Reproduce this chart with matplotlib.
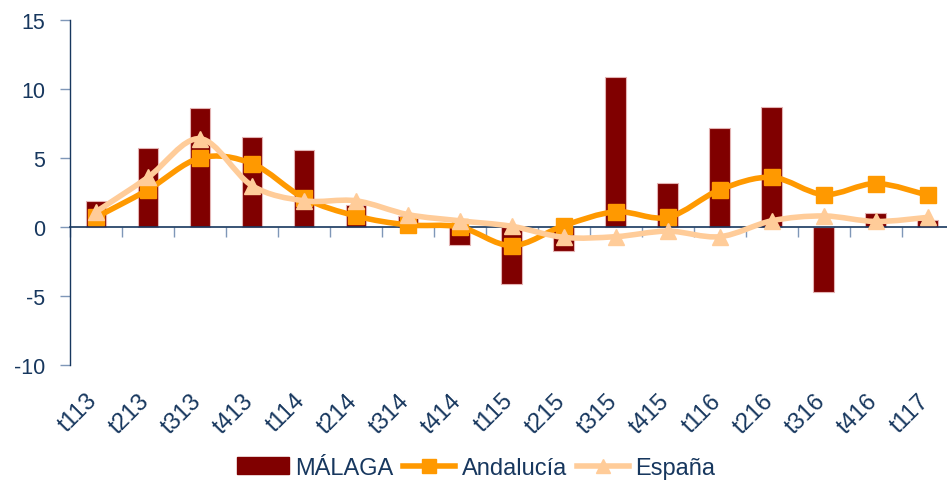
import numpy as np
import matplotlib
matplotlib.use("Agg")
import matplotlib.pyplot as plt
from matplotlib.path import Path
from matplotlib.patches import PathPatch, Patch
from matplotlib.lines import Line2D

# Quarterly rates of change (%)
periods = ["t113", "t213", "t313", "t413", "t114", "t214", "t314", "t414",
           "t115", "t215", "t315", "t415", "t116", "t216", "t316", "t416", "t117"]
malaga = [1.9, 5.75, 8.6, 6.55, 5.6, 1.6, 0.8, -1.3,
          -4.1, -1.75, 10.9, 3.2, 7.2, 8.7, -4.7, 1.0, 0.5]
andalucia = [0.7, 2.7, 5.0, 4.6, 2.1, 0.8, 0.15, 0.0,
             -1.35, 0.1, 1.1, 0.7, 2.7, 3.6, 2.35, 3.15, 2.3]
espana = [1.1, 3.6, 6.4, 3.0, 1.9, 1.9, 0.9, 0.45,
          0.05, -0.75, -0.7, -0.3, -0.7, 0.45, 0.8, 0.4, 0.7]

yticks = [-10, -5, 0, 5, 10, 15]

TEXT = "#17375E"
TICK = "#7F97B8"
BAR = "#800000"
AND_C = "#FF9900"
ESP_C = "#FFCC99"

plt.rcParams["font.family"] = ["Liberation Sans", "DejaVu Sans"]

fig = plt.figure(figsize=(9.47, 4.81), dpi=100)
ax = fig.add_axes([70 / 947, 1 - 366 / 481, 877 / 947, 345 / 481])

x = np.arange(len(periods))


def smooth_path(xs, ys):
    """Cubic Bezier path through the points (Catmull-Rom style smoothing)."""
    pts = np.column_stack([xs, ys]).astype(float)
    n = len(pts)
    verts = [pts[0]]
    codes = [Path.MOVETO]
    for i in range(n - 1):
        p0 = pts[i - 1] if i > 0 else pts[i]
        p1 = pts[i]
        p2 = pts[i + 1]
        p3 = pts[i + 2] if i + 2 < n else pts[i + 1]
        c1 = p1 + (p2 - p0) / 6.0
        c2 = p2 - (p3 - p1) / 6.0
        verts += [c1, c2, p2]
        codes += [Path.CURVE4] * 3
    return Path(verts, codes)


ax.bar(x, malaga, width=0.4, color=BAR, edgecolor="#E3B3B3", linewidth=0.8, zorder=2)

for vals, col, mk, ms, z in [(andalucia, AND_C, "s", 11.5, 3), (espana, ESP_C, "^", 12, 4)]:
    patch = PathPatch(smooth_path(x, vals), facecolor="none", edgecolor=col,
                      linewidth=4.0, capstyle="round", joinstyle="round", zorder=z)
    ax.add_patch(patch)
    ax.plot(x, vals, linestyle="none", marker=mk, markersize=ms, color=col,
            markeredgecolor=col, zorder=z + 0.5)

ax.set_xlim(-0.5, 16.37)
ax.set_ylim(-10, 15)

# Axes styling
for s in ["top", "right"]:
    ax.spines[s].set_visible(False)
ax.spines["left"].set_color(TEXT)
ax.spines["left"].set_linewidth(1.0)
ax.spines["bottom"].set_position(("data", 0))
ax.spines["bottom"].set_color(TEXT)
ax.spines["bottom"].set_linewidth(1.2)

ax.set_yticks(yticks)
ax.set_yticklabels([str(v) for v in yticks])
ax.tick_params(axis="y", direction="out", length=7, width=1, color=TICK,
               labelsize=15.5, labelcolor=TEXT, pad=11)

ax.set_xticks(np.arange(-0.5, 16.5, 1.0))
ax.tick_params(axis="x", direction="out", length=7, width=1, color=TICK,
               labelbottom=False)

for xi, lab in zip(x, periods):
    ax.text(xi - 0.19, -11.75, lab, rotation=45, ha="right", va="top",
            rotation_mode="anchor", fontsize=17, color=TEXT,
            transform=ax.transData, clip_on=False)

handles = [
    Patch(facecolor=BAR, edgecolor=BAR),
    Line2D([0], [0], color=AND_C, linewidth=4.0, marker="s", markersize=10),
    Line2D([0], [0], color=ESP_C, linewidth=4.0, marker="^", markersize=10),
]
fig.legend(handles, ["MÁLAGA", "Andalucía", "España"], loc="center",
           bbox_to_anchor=(476 / 947, 1 - 469 / 481), ncol=3, frameon=False,
           fontsize=17, labelcolor=TEXT, handlelength=2.2, handleheight=0.7,
           handletextpad=0.26, columnspacing=0.44, borderaxespad=0)

fig.savefig("out.png", dpi=100)
